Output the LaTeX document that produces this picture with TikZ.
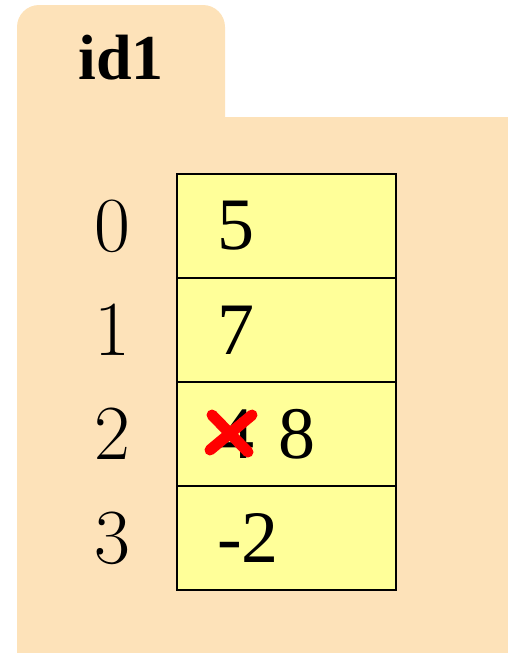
\documentclass[tikz,border=0pt]{standalone}
\usepackage{fontspec}
\setmainfont{Liberation Serif}
\newfontfamily\idxfont{Latin Modern Roman}
\usetikzlibrary{positioning}
\definecolor{FrameTan}{HTML}{FDE2B9}
\definecolor{CellYellow}{HTML}{FFFF99}
\definecolor{CrossRed}{HTML}{FF0000}

\begin{document}
\begin{tikzpicture}[
            x=1pt, y=-1pt,
            cell/.style={draw=black, line width=1.5pt, fill=CellYellow, outer sep=0pt, minimum width=219pt, minimum height=104pt, inner xsep=40pt, text width=139pt, align=left, font=\fontsize{74}{80}\selectfont},
            idx/.style={font=\idxfont\fontsize{78}{80}\selectfont},
            cross/.style={draw=CrossRed, line width=11pt, line cap=round}
        ]
            \useasboundingbox (0,0) rectangle (508,653);
            
            % folder
            \fill[FrameTan, rounded corners=22pt] (17,5) rectangle (225,140);
            \fill[FrameTan] (17,117) rectangle (508,653);
            \node[font=\bfseries\fontsize{64}{70}\selectfont] (name) at (121,58) {id1};
            
            \node[cell, anchor=north west] (c0) at (177,174) {5};
            \node[idx, left=43pt of c0] (i0) {0};
            
            \node[cell, below=0pt of c0] (c1) {7};
            \node[idx, left=43pt of c1] (i1) {1};
            
            \node[cell, below=0pt of c1] (c2) {4 8};
            \node[idx, left=43pt of c2] (i2) {2};
            
            \node[cell, below=0pt of c2] (c3) {-2};
            \node[idx, left=43pt of c3] (i3) {3};
            
            % crossed out value
            \draw[cross] ([shift={(35,-19)}]c2.west) -- ([shift={(71,18)}]c2.west);
            \draw[cross] ([shift={(75,-19)}]c2.west) -- ([shift={(33,16)}]c2.west);
            
        \end{tikzpicture}
\end{document}
